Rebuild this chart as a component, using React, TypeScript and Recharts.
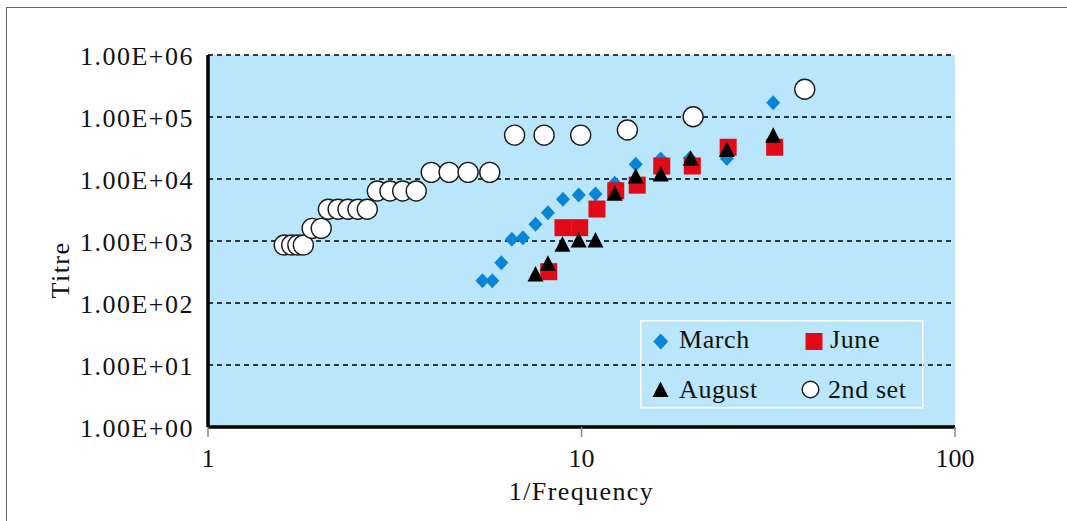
import React from 'react';
import { ScatterChart, Scatter, XAxis, YAxis, CartesianGrid, Legend } from 'recharts';

const FONT = '"Liberation Serif", "Times New Roman", serif';
const BLUE = '#0a84d6';
const RED = '#e30a17';
const PLOT_BG = '#b9e6fa';

// values (x = 1/frequency, y = titre)
const marchX = [5.43, 5.77, 6.1, 6.51, 6.97, 7.53, 8.13, 8.92, 9.83, 10.9, 12.27, 13.97, 16.3, 19.5, 24.5, 32.6];
const marchY = [229, 229, 447, 1065, 1130, 1860, 2860, 4710, 5520, 5730, 8520, 17260, 21000, 21600, 21500, 170000];

const juneX = [8.17, 8.92, 9.89, 11.0, 12.35, 14.1, 16.4, 19.8, 24.7, 32.9];
const juneY = [320, 1640, 1640, 3280, 6460, 7960, 16200, 16200, 32500, 32500];

const augustX = [7.53, 8.13, 8.89, 9.83, 10.9, 12.27, 13.97, 16.3, 19.6, 24.5, 32.6];
const augustY = [294, 437, 885, 1038, 1038, 5880, 11170, 12030, 21570, 30000, 51000];

const secondX = [1.6, 1.675, 1.74, 1.8, 1.9, 2.01, 2.1, 2.23, 2.37, 2.52, 2.67, 2.84, 3.07, 3.32, 3.61, 3.96, 4.42, 4.97, 5.68, 6.62, 7.94, 9.95, 13.27, 19.9, 39.6];
const secondY = [860, 860, 860, 860, 1600, 1600, 3250, 3250, 3250, 3250, 3250, 6400, 6400, 6400, 6400, 12800, 12800, 12800, 12800, 51000, 51000, 51000, 61700, 101000, 280000];

const seriesNames = ['March', 'June', 'August', '2nd set'];
const xTicks = [1, 10, 100];
const yTicks = [1, 10, 100, 1000, 10000, 100000, 1000000];

const zip = (xs: number[], ys: number[]) => xs.map((x, i) => ({ x, y: ys[i] }));

const marchData = zip(marchX, marchY);
const juneData = zip(juneX, juneY);
const augustData = zip(augustX, augustY);
const secondData = zip(secondX, secondY);

const Diamond = ({ cx, cy, w = 7, h = 7.5 }: any) => (
  <polygon points={`${cx},${cy - h} ${cx + w},${cy} ${cx},${cy + h} ${cx - w},${cy}`} fill={BLUE} />
);
const Square = ({ cx, cy, s = 17 }: any) => (
  <rect x={cx - s / 2} y={cy - s / 2} width={s} height={s} fill={RED} />
);
const Triangle = ({ cx, cy }: any) => (
  <polygon points={`${cx},${cy - 8} ${cx + 8},${cy + 7.5} ${cx - 8},${cy + 7.5}`} fill="#000" />
);
const Circle = ({ cx, cy, r = 10 }: any) => (
  <circle cx={cx} cy={cy} r={r} fill="#fff" stroke="#1a1a1a" strokeWidth={1.4} />
);

const fmtExp = (v: number) => {
  const e = Math.round(Math.log10(v));
  return `1.00E+${String(e).padStart(2, '0')}`;
};

const YTick = ({ x, y, payload }: any) => (
  <text x={x} y={y + 10} textAnchor="end" fontFamily={FONT} fontSize={26} letterSpacing={1.5} fill="#111">
    {fmtExp(payload.value)}
  </text>
);

const XTick = ({ x, y, payload }: any) => (
  <text x={x} y={y + 28} textAnchor="middle" fontFamily={FONT} fontSize={26} fill="#111">
    {payload.value}
  </text>
);

const TitreLabel = ({ viewBox }: any) => {
  const px = viewBox.x + 69;
  const py = 270;
  return (
    <text x={px} y={py} transform={`rotate(-90 ${px} ${py})`} textAnchor="middle" fontFamily={FONT} fontSize={26} letterSpacing={1.5} fill="#111">
      Titre
    </text>
  );
};

const renderLegend = () => {
  const icons = [
    <Diamond cx={20.7} cy={21.5} w={7.5} h={8} />,
    <Square cx={174} cy={21.5} s={17} />,
    <Triangle cx={20.5} cy={69.5} />,
    <Circle cx={170.5} cy={69.5} r={8.3} />,
  ];
  const textPos = [
    [39, 27.5],
    [190, 27.5],
    [39, 77.5],
    [188, 77.5],
  ];
  return (
    <svg width={284} height={89} style={{ display: 'block' }}>
      <rect x={0.75} y={0.75} width={282} height={87} fill="none" stroke="#fff" strokeWidth={1.5} />
      {seriesNames.map((name, i) => (
        <g key={name}>
          {icons[i]}
          <text x={textPos[i][0]} y={textPos[i][1]} fontFamily={FONT} fontSize={26} letterSpacing={0.6} fill="#111">
            {name}
          </text>
        </g>
      ))}
    </svg>
  );
};

export default function App() {
  return (
    <div style={{ position: 'absolute', left: 0, top: 0, width: 1067, height: 521, background: '#fff' }}>
      <div
        style={{
          position: 'absolute',
          left: 6,
          top: 7,
          width: 1061,
          height: 514,
          borderTop: '1.5px solid #666',
          borderLeft: '1.5px solid #666',
          boxSizing: 'border-box',
        }}
      />
      <ScatterChart width={1067} height={521} margin={{ top: 55, right: 112, bottom: 0, left: 0 }}>
        <CartesianGrid
          vertical={false}
          stroke="#000"
          strokeDasharray="5 4"
          strokeWidth={1.3}
          fill={PLOT_BG}
          fillOpacity={1}
        />
        <XAxis
          dataKey="x"
          type="number"
          scale="log"
          domain={[1, 100]}
          ticks={xTicks}
          allowDataOverflow
          height={94}
          axisLine={{ stroke: '#000', strokeWidth: 3.5 }}
          tickLine={{ stroke: '#888', strokeWidth: 1.5 }}
          tickSize={10}
          tickMargin={2}
          tick={<XTick />}
          label={{
            value: '1/Frequency',
            position: 'insideBottom',
            offset: 21,
            style: { fontFamily: FONT, fontSize: 26, letterSpacing: 1.4, fill: '#111' },
          }}
        />
        <YAxis
          dataKey="y"
          type="number"
          scale="log"
          domain={[1, 1000000]}
          ticks={yTicks}
          allowDataOverflow
          width={208}
          axisLine={{ stroke: '#000', strokeWidth: 3.5 }}
          tickLine={false}
          tickSize={6}
          tickMargin={8}
          tick={<YTick />}
          label={<TitreLabel />}
        />
        <Legend
          layout="horizontal"
          verticalAlign="middle"
          align="center"
          content={renderLegend}
          wrapperStyle={{ position: 'absolute', left: 640, top: 320, width: 284, height: 89 }}
        />
        <Scatter name={seriesNames[0]} data={marchData} isAnimationActive={false} shape={(p: any) => <Diamond cx={p.cx} cy={p.cy} />} />
        <Scatter name={seriesNames[1]} data={juneData} isAnimationActive={false} shape={(p: any) => <Square cx={p.cx} cy={p.cy} />} />
        <Scatter name={seriesNames[2]} data={augustData} isAnimationActive={false} shape={(p: any) => <Triangle cx={p.cx} cy={p.cy} />} />
        <Scatter name={seriesNames[3]} data={secondData} isAnimationActive={false} shape={(p: any) => <Circle cx={p.cx} cy={p.cy} />} />
      </ScatterChart>
    </div>
  );
}
